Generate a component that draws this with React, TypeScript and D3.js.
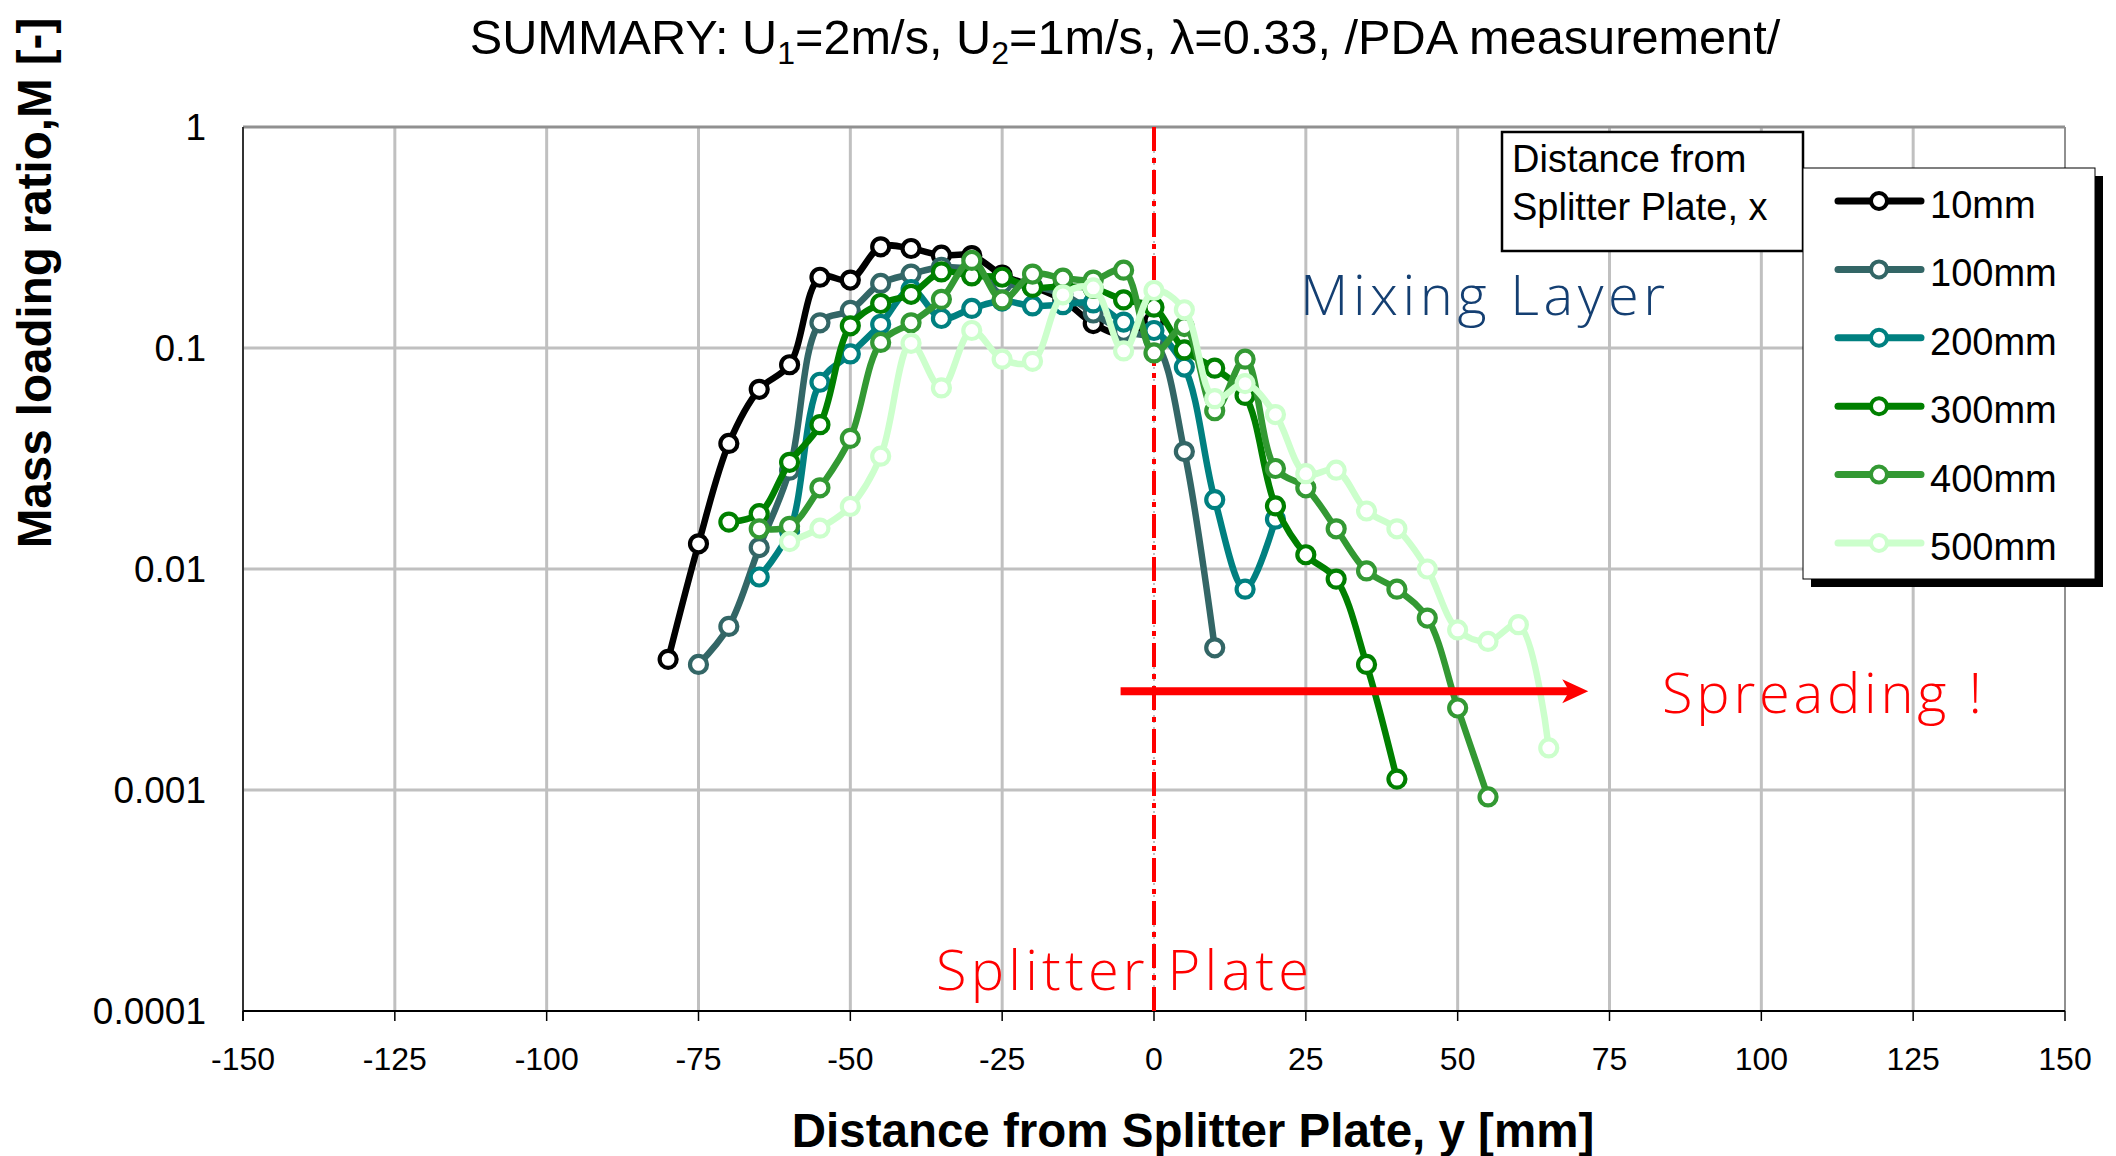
import React from "react";
import * as d3 from "d3";

// ---------- data ----------
const SERIES_NAMES = ["10mm", "100mm", "200mm", "300mm", "400mm", "500mm"];
const SERIES_COLORS = ["#000000", "#336666", "#008080", "#008000", "#339933", "#ccffcc"];

const Y_10 = [-80, -75, -70, -65, -60, -55, -50, -45, -40, -35, -30, -25, -20, -15, -10, -5, 0];
const M_10 = [0.0039, 0.013, 0.037, 0.065, 0.084, 0.209, 0.203, 0.287, 0.282, 0.263, 0.262, 0.214, 0.19, 0.165, 0.129, 0.115, 0.133];

const Y_100 = [-75, -70, -65, -60, -55, -50, -45, -40, -35, -30, -25, -20, -15, -10, -5, 0, 5, 10];
const M_100 = [0.0037, 0.0055, 0.0125, 0.028, 0.13, 0.148, 0.196, 0.216, 0.232, 0.225, 0.196, 0.19, 0.175, 0.144, 0.119, 0.108, 0.034, 0.0044];

const Y_200 = [-65, -60, -55, -50, -45, -40, -35, -30, -25, -20, -15, -10, -5, 0, 5, 10, 15, 20];
const M_200 = [0.0092, 0.0148, 0.07, 0.094, 0.128, 0.184, 0.136, 0.151, 0.163, 0.155, 0.157, 0.16, 0.131, 0.12, 0.082, 0.0206, 0.0081, 0.0168];

const Y_300 = [-70, -65, -60, -55, -50, -45, -40, -35, -30, -25, -20, -15, -10, -5, 0, 5, 10, 15, 20, 25, 30, 35, 40];
const M_300 = [0.0163, 0.0178, 0.0304, 0.045, 0.126, 0.159, 0.175, 0.221, 0.212, 0.209, 0.188, 0.19, 0.186, 0.165, 0.153, 0.098, 0.081, 0.061, 0.0193, 0.0116, 0.009, 0.0037, 0.00112];

const Y_400 = [-65, -60, -55, -50, -45, -40, -35, -30, -25, -20, -15, -10, -5, 0, 5, 10, 15, 20, 25, 30, 35, 40, 45, 50, 55];
const M_400 = [0.0152, 0.0156, 0.0233, 0.039, 0.106, 0.13, 0.166, 0.249, 0.165, 0.216, 0.207, 0.203, 0.225, 0.095, 0.125, 0.052, 0.089, 0.0285, 0.0233, 0.0152, 0.0098, 0.0081, 0.006, 0.00235, 0.00093];

const Y_500 = [-60, -55, -50, -45, -40, -35, -30, -25, -20, -15, -10, -5, 0, 5, 10, 15, 20, 25, 30, 35, 40, 45, 50, 55, 60, 65];
const M_500 = [0.0133, 0.0153, 0.0192, 0.0324, 0.105, 0.066, 0.12, 0.089, 0.087, 0.174, 0.187, 0.097, 0.182, 0.149, 0.059, 0.069, 0.05, 0.027, 0.028, 0.0183, 0.0152, 0.01, 0.0053, 0.0047, 0.0056, 0.00155];

const SERIES_Y = [Y_10, Y_100, Y_200, Y_300, Y_400, Y_500];
const SERIES_M = [M_10, M_100, M_200, M_300, M_400, M_500];

const X_TICKS = [-150, -125, -100, -75, -50, -25, 0, 25, 50, 75, 100, 125, 150];
const Y_TICKS = [1, 0.1, 0.01, 0.001, 0.0001];
const Y_TICK_LABELS = ["1", "0.1", "0.01", "0.001", "0.0001"];

// annotation anchors (data units)
const ARROW_FROM = -5.5;
const ARROW_TO = 71.5;
const ARROW_M = 0.0028;

// ---------- layout ----------
const W = 2116;
const H = 1156;
const PL = 243;
const PR = 2065;
const PT = 127;
const PB = 1011;

const FONT = "'Liberation Sans', Arial, Helvetica, sans-serif";
const THIN = "'Open Sans', Lato, Inter, sans-serif";

export default function App() {
  const x = d3.scaleLinear().domain([-150, 150]).range([PL, PR]);
  const y = d3.scaleLog().domain([0.0001, 1]).range([PB, PT]);

  const line = d3
    .line<[number, number]>()
    .x((d) => x(d[0]))
    .y((d) => y(d[1]))
    .curve(d3.curveCatmullRom.alpha(0.5));

  const series = SERIES_NAMES.map((name, i) => ({
    name,
    color: SERIES_COLORS[i],
    pts: SERIES_Y[i].map((v, j) => [v, SERIES_M[i][j]] as [number, number]),
  }));

  const ax0 = x(ARROW_FROM);
  const ax1 = x(ARROW_TO);
  const ay = y(ARROW_M);

  // legend
  const LX0 = 1803, LY0 = 168, LX1 = 2095, LY1 = 579;
  const legendRow = (i: number) => 218 + i * 68.4;

  return (
    <svg
      width={W}
      height={H}
      viewBox={`0 0 ${W} ${H}`}
      style={{ position: "absolute", left: 0, top: 0, background: "#fff" }}
    >
      <rect x={0} y={0} width={W} height={H} fill="#fff" />

      {/* subtitle */}
      <text x={1125} y={54} textAnchor="middle" fontFamily={FONT} fontSize={48.7} fill="#000">
        SUMMARY: U
        <tspan fontSize={32} dy={10}>1</tspan>
        <tspan dy={-10}>=2m/s, U</tspan>
        <tspan fontSize={32} dy={10}>2</tspan>
        <tspan dy={-10}>=1m/s, λ=0.33, /PDA measurement/</tspan>
      </text>

      {/* gridlines */}
      {X_TICKS.filter((t) => t !== -150 && t !== 150 && t !== 0).map((t) => (
        <line key={"gx" + t} x1={x(t)} x2={x(t)} y1={PT} y2={PB} stroke="#c0c0c0" strokeWidth={3} />
      ))}
      <line x1={x(0)} x2={x(0)} y1={PT} y2={PB} stroke="#c0c0c0" strokeWidth={2} strokeDasharray="2,4" />
      {Y_TICKS.filter((t) => t !== 1 && t !== 0.0001).map((t) => (
        <line key={"gy" + t} x1={PL} x2={PR} y1={y(t)} y2={y(t)} stroke="#c0c0c0" strokeWidth={3} />
      ))}

      {/* plot border */}
      <line x1={PL} x2={PR} y1={PT} y2={PT} stroke="#909090" strokeWidth={3} />
      <line x1={PR} x2={PR} y1={PT} y2={PB} stroke="#909090" strokeWidth={2} />
      <line x1={PL} x2={PL} y1={PT} y2={PB + 10} stroke="#333" strokeWidth={2} />
      <line x1={PL} x2={PR} y1={PB} y2={PB} stroke="#000" strokeWidth={2} />
      {X_TICKS.map((t) => (
        <line key={"tx" + t} x1={x(t)} x2={x(t)} y1={PB} y2={PB + 10} stroke="#000" strokeWidth={1.5} />
      ))}

      {/* tick labels */}
      {X_TICKS.map((t) => (
        <text key={"lx" + t} x={x(t)} y={1070} textAnchor="middle" fontFamily={FONT} fontSize={32} fill="#000">
          {t}
        </text>
      ))}
      {Y_TICKS.map((t, i) => (
        <text key={"ly" + t} x={206} y={y(t) + 13} textAnchor="end" fontFamily={FONT} fontSize={37} fill="#000">
          {Y_TICK_LABELS[i]}
        </text>
      ))}

      {/* axis titles */}
      <text x={1193} y={1147} textAnchor="middle" fontFamily={FONT} fontWeight="bold" fontSize={47.5} fill="#000">
        Distance from Splitter Plate, y [mm]
      </text>
      <text
        transform={`translate(51,283) rotate(-90)`}
        textAnchor="middle"
        fontFamily={FONT}
        fontWeight="bold"
        fontSize={47.5}
        fill="#000"
      >
        Mass loading ratio,M [-]
      </text>

      {/* splitter plate line */}
      <line x1={x(0)} x2={x(0)} y1={PT} y2={PB} stroke="#ff0000" strokeWidth={4} strokeDasharray="24,7,5,7" />

      {/* series */}
      {series.map((s) => (
        <g key={s.name}>
          <path d={line(s.pts) || ""} fill="none" stroke={s.color} strokeWidth={6.5} strokeLinejoin="round" strokeLinecap="round" />
          {s.pts.map((p, j) => (
            <circle key={j} cx={x(p[0])} cy={y(p[1])} r={8.5} fill="#fff" stroke={s.color} strokeWidth={4.2} />
          ))}
        </g>
      ))}

      {/* spreading arrow */}
      <line x1={ax0} x2={ax1 - 14} y1={ay} y2={ay} stroke="#ff0000" strokeWidth={8} />
      <path
        d={`M${ax1},${ay} L${ax1 - 26},${ay - 12} L${ax1 - 19},${ay} L${ax1 - 26},${ay + 12} Z`}
        fill="#ff0000"
      />

      {/* annotations */}
      <text x={1300} y={315} fontFamily={THIN} fontWeight={300} fontSize={56} fill="#143f72" textLength={365} lengthAdjust="spacing">
        Mixing Layer
      </text>
      <text x={936} y={990} fontFamily={THIN} fontWeight={300} fontSize={56} fill="#ff0000" textLength={373} lengthAdjust="spacing">
        Splitter Plate
      </text>
      <text x={1662} y={713} fontFamily={THIN} fontWeight={300} fontSize={56} fill="#ff0000" textLength={320} lengthAdjust="spacing">
        Spreading !
      </text>

      {/* legend title box */}
      <rect x={1502} y={132} width={301} height={119} fill="#fff" stroke="#000" strokeWidth={2.5} />
      <text x={1512} y={172} fontFamily={FONT} fontSize={38} fill="#000">Distance from</text>
      <text x={1512} y={220} fontFamily={FONT} fontSize={38} fill="#000">Splitter Plate, x</text>

      {/* legend */}
      <rect x={LX0 + 8} y={LY0 + 8} width={LX1 - LX0} height={LY1 - LY0} fill="#000" />
      <rect x={LX0} y={LY0} width={LX1 - LX0} height={LY1 - LY0} fill="#fff" stroke="#000" strokeWidth={1} />
      {series.map((s, i) => {
        const cy = legendRow(i) - 17;
        return (
          <g key={"lg" + s.name}>
            <line x1={1838} x2={1921} y1={cy} y2={cy} stroke={s.color} strokeWidth={7} strokeLinecap="round" />
            <circle cx={1879} cy={cy} r={8} fill="#fff" stroke={s.color} strokeWidth={4} />
            <text x={1930} y={legendRow(i)} fontFamily={FONT} fontSize={38} fill="#000">
              {s.name}
            </text>
          </g>
        );
      })}
    </svg>
  );
}
